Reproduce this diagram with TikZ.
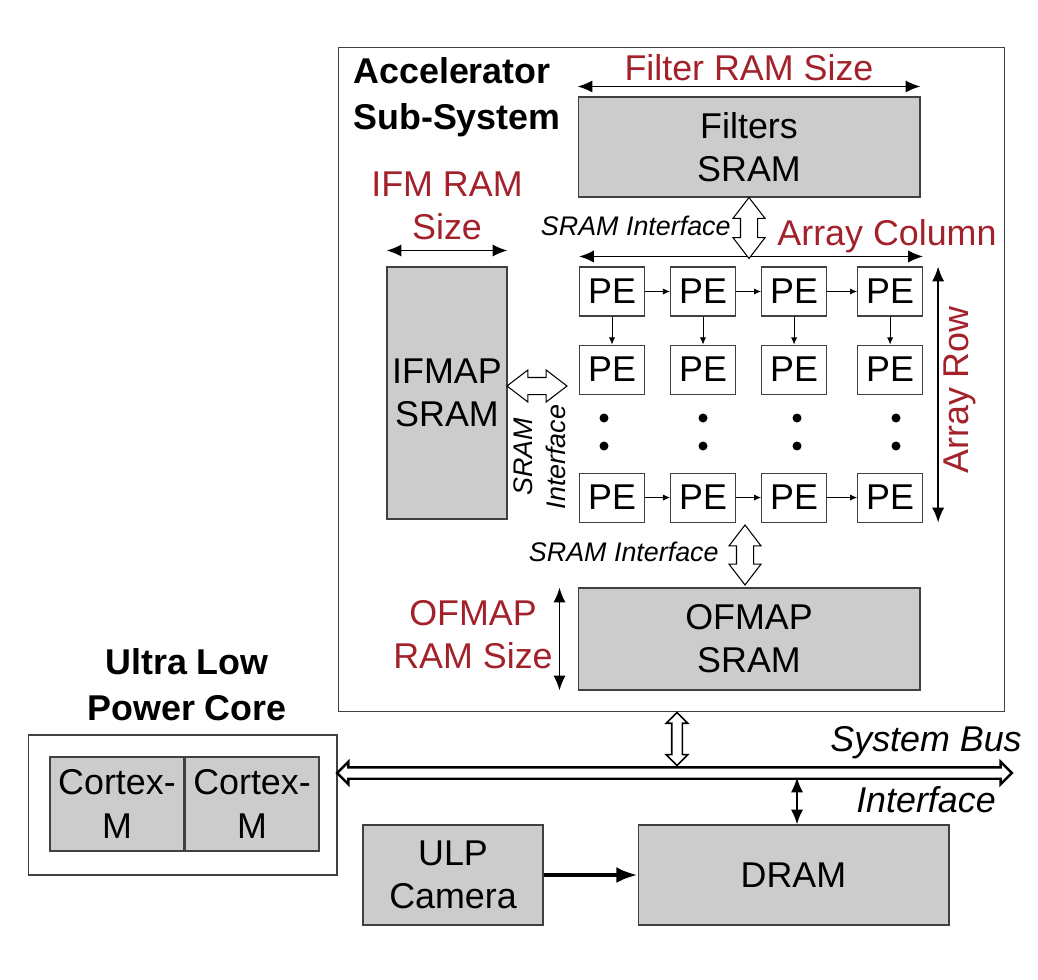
\documentclass[tikz,border=0pt]{standalone}
\usepackage{fontspec}
\setmainfont{Liberation Sans}
\usetikzlibrary{positioning,calc,shapes.arrows,arrows.meta}
\definecolor{ramred}{HTML}{A3212B}
\definecolor{sramgray}{HTML}{CCCCCC}
\tikzset{
	>=latex,
}

\begin{document}
\begin{tikzpicture}[
		x=0.02cm, y=-0.02cm,
		every node/.style={font=\fontsize{20.4}{24.5}\selectfont, align=center, inner sep=0pt},
		sram/.style={draw=black!75, fill=sramgray, line width=0.6pt},
		pe/.style={draw=black!75, line width=0.6pt, minimum width=1.30cm, minimum height=0.98cm},
		size/.style={text=ramred},
		head/.style={font=\fontsize{20.4}{26}\selectfont\bfseries},
		iface/.style={font=\fontsize{15.3}{18.7}\selectfont\itshape},
		busfont/.style={font=\fontsize{20.4}{24.5}\selectfont\itshape},
		dim/.style={{Latex[length=8.5pt,width=7pt]}-{Latex[length=8.5pt,width=7pt]}, line width=1.1pt},
		link/.style={-{Latex[length=4pt,width=3.5pt]}, line width=0.5pt},
		hollow/.style={double arrow, draw, fill=white, line width=0.6pt,
			inner xsep=0pt, inner ysep=0.16cm, double arrow head extend=0.15cm,
			double arrow tip angle=75, minimum height=#1},
		bus/.style={double arrow, draw, fill=white, line width=1.4pt,
			inner xsep=0pt, inner ysep=0.09cm, double arrow head extend=0.11cm,
			double arrow tip angle=90, minimum height=#1},
	]
	\useasboundingbox (0,0) rectangle (1038,980);
	\draw
		node(acc)[draw=black!75, line width=0.6pt, minimum width=13.34cm, minimum height=13.30cm] at (671.5,379.5) {}
		node(accLbl)[head, align=left] at (457,97) {Accelerator\\Sub-System}
		node(filt)[sram, minimum width=6.84cm, minimum height=2.00cm] at (749,147) {Filters\\SRAM}
		node(filtLbl)[size] at (749,68) {Filter RAM Size}
		node(ifm)[sram, minimum width=2.40cm, minimum height=5.04cm] at (447,393) {IFMAP\\SRAM}
		node(ifmLbl)[size] at (447,206) {IFM RAM\\Size}
		node(ofm)[sram, minimum width=6.84cm, minimum height=2.04cm] at (749,639) {OFMAP\\SRAM}
		node(ofmLbl)[size] at (473,635) {OFMAP\\RAM Size}
		node(colLbl)[size] at (887,236) {Array Column}
		node(rowLbl)[size, rotate=90] at (960,390) {Array Row}
		node(topIf)[iface, anchor=east] at (731,226) {SRAM Interface}
		node(sideIf)[iface, rotate=90] at (540,457) {SRAM\\Interface}
		node(botIf)[iface, anchor=east] at (719,552) {SRAM Interface}
	;
	% processing elements
	\draw
		node(pe11)[pe] at (612,291.5) {PE}
		node(pe12)[pe, right=0.5cm of pe11] {PE}
		node(pe13)[pe, right=0.5cm of pe12] {PE}
		node(pe14)[pe, right=0.6cm of pe13] {PE}
		node(pe21)[pe, below=0.56cm of pe11] {PE}
		node(pe22)[pe, below=0.56cm of pe12] {PE}
		node(pe23)[pe, below=0.56cm of pe13] {PE}
		node(pe24)[pe, below=0.56cm of pe14] {PE}
		node(pe31)[pe, below=1.56cm of pe21] {PE}
		node(pe32)[pe, below=1.56cm of pe22] {PE}
		node(pe33)[pe, below=1.56cm of pe23] {PE}
		node(pe34)[pe, below=1.56cm of pe24] {PE}
	;
	\fill (604,418) circle (0.09cm) (604,446) circle (0.09cm)
		(703,418) circle (0.09cm) (703,446) circle (0.09cm)
		(797,418) circle (0.09cm) (797,446) circle (0.09cm)
		(896,418) circle (0.09cm) (896,446) circle (0.09cm);
	\draw[link] (pe11) to (pe12);
	\draw[link] (pe12) to (pe13);
	\draw[link] (pe13) to (pe14);
	\draw[link] (pe31) to (pe32);
	\draw[link] (pe32) to (pe33);
	\draw[link] (pe33) to (pe34);
	\draw[link] (pe11) to (pe21);
	\draw[link] (pe12) to (pe22);
	\draw[link] (pe13) to (pe23);
	\draw[link] (pe14) to (pe24);
	% sizes
	\draw[dim] ([yshift=0.2cm]filt.north west) to ([yshift=0.2cm]filt.north east);
	\draw[dim] ([yshift=0.2cm]pe11.north west) to ([yshift=0.2cm]pe14.north east);
	\draw[dim] ([yshift=0.32cm]ifm.north west) to ([yshift=0.32cm]ifm.north east);
	\draw[dim] ([xshift=0.3cm]pe14.north east) to ([xshift=0.3cm]pe34.south east);
	\draw[dim] ([xshift=-0.36cm]ofm.north west) to ([xshift=-0.36cm]ofm.south west);
	% sram interfaces
	\node(topArr)[hollow=1.22cm, rotate=90] at ($(filt.south)+(0,30.5)$) {};
	\node(sideArr)[hollow=1.20cm] at (537,386) {};
	\node(botArr)[hollow=1.20cm, rotate=90] at (745,555) {};
	% system
	\draw
		node(ulp)[draw=black!75, line width=0.6pt, minimum width=6.18cm, minimum height=2.80cm] at (182.5,805) {}
		node(ulpLbl)[head] at (187,685) {Ultra Low\\Power Core}
		node(cm1)[sram, minimum width=2.68cm, minimum height=1.88cm] at (117,804) {Cortex-\\M}
		node(cm2)[sram, minimum width=2.68cm, minimum height=1.88cm, right=0pt of cm1] {Cortex-\\M}
		node(cam)[sram, minimum width=3.60cm, minimum height=2.00cm] at (453,875) {ULP\\Camera}
		node(dram)[sram, minimum width=6.22cm, minimum height=2.00cm] at (793.5,875) {DRAM}
		node(busLbl)[busfont, anchor=east] at (1022,743) {System Bus}
		node(busIf)[busfont] at (926,800) {Interface}
	;
	\node(sysBus)[bus=13.50cm] at (674.5,773) {};
	\node(accBus)[bus=1.06cm, line width=0.9pt, rotate=90] at ($(acc.south)+(5.5,26.5)$) {};
	\draw[dim] ([xshift=0.07cm, yshift=0.94cm]dram.north) to ([xshift=0.07cm]dram.north);
	\draw[-{Latex[length=12pt,width=9pt]}, line width=2.2pt] (cam) to (dram);
\end{tikzpicture}
\end{document}
